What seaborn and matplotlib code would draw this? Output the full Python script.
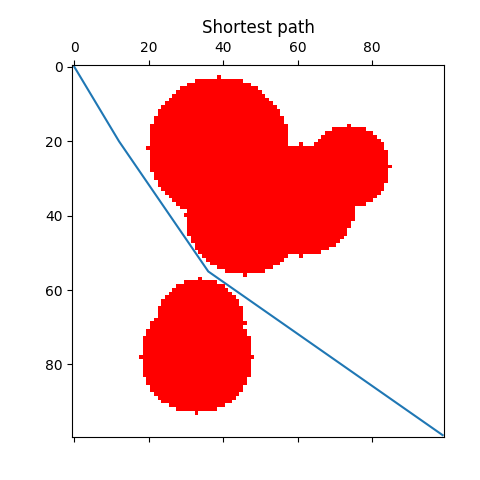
import numpy as np
import matplotlib
matplotlib.use("Agg")
import matplotlib.pyplot as plt
from matplotlib.colors import ListedColormap
import seaborn as sns
import pandas as pd

# Grid size
grid_w = 100
grid_h = 100

# Circular obstacles (centre column, centre row, radius)
obst_cx = [39, 61, 74, 46, 34, 33]
obst_cy = [22, 36, 27, 40, 69, 78]
obst_r = [19, 15, 11, 16, 12, 15]

# Shortest path vertices (column, row)
path_x = [0, 12, 36, 99]
path_y = [0, 20, 55, 99]

title = "Shortest path"

# Build occupancy grid from the obstacle table
yy, xx = np.mgrid[0:grid_h, 0:grid_w]
grid = np.zeros((grid_h, grid_w), dtype=int)
for cx, cy, r in zip(obst_cx, obst_cy, obst_r):
    grid[(xx - cx) ** 2 + (yy - cy) ** 2 <= r ** 2] = 1

fig = plt.figure(figsize=(4.8, 4.8), dpi=100)
ax = fig.add_axes([0.151, 0.0896, 0.775, 0.775])
ax.imshow(grid, cmap=ListedColormap(["white", "red"]), interpolation="nearest",
          vmin=0, vmax=1)

df = pd.DataFrame({"x": path_x, "y": path_y})
sns.lineplot(data=df, x="x", y="y", sort=False, estimator=None, ax=ax,
             color="C0", linewidth=1.5)

ax.set_xlim(-0.5, grid_w - 0.5)
ax.set_ylim(grid_h - 0.5, -0.5)
ax.set_xticks([0, 20, 40, 60, 80])
ax.set_yticks([0, 20, 40, 60, 80])
ax.set_xlabel("")
ax.set_ylabel("")
ax.tick_params(axis="x", top=True, labeltop=True, bottom=True, labelbottom=False)
ax.set_title(title)

fig.savefig("out.png", dpi=100)
